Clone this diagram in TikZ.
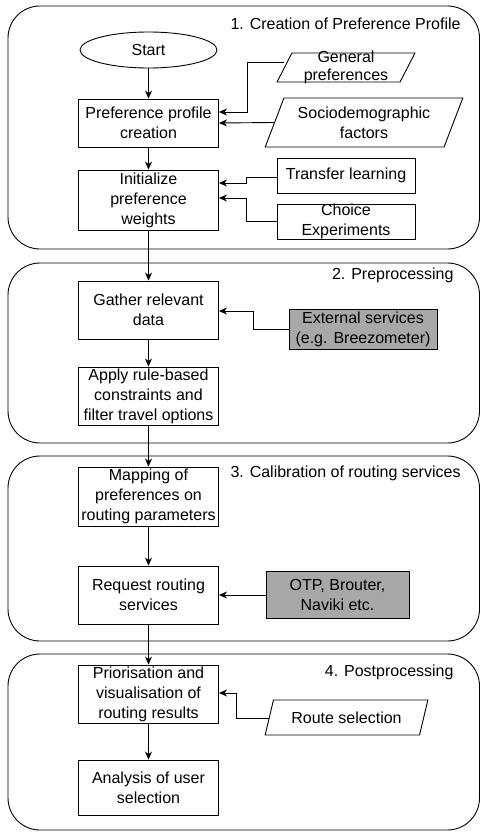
\documentclass[tikz,border=0pt]{standalone}
\usepackage{fontspec}
\setmainfont{Liberation Sans}
\usetikzlibrary{shapes.geometric,arrows.meta}
\definecolor{srvgray}{HTML}{A8A8A8}
\tikzset{every node/.style={font=\fontsize{16}{20}\selectfont, align=center, inner sep=1pt},
  procbox/.style={draw, minimum width=140pt},
  iobox/.style={draw, trapezium, trapezium left angle=65, trapezium right angle=115, trapezium stretches=true},
  srcbox/.style={draw, minimum width=138pt, minimum height=35pt},
  extbox/.style={draw, fill=srvgray},
  flow/.style={-{Stealth[length=8pt,width=7pt,inset=2.5pt]}},
  phase/.style={rounded corners=32pt},
  phasetitle/.style={anchor=east}}

\begin{document}
\begin{tikzpicture}[x=1pt,y=-1pt,line width=0.9pt]
  \useasboundingbox (0,0) rectangle (481,832);
  % phases
  \draw[phase] (8,6) rectangle (479.5,249);
  \draw[phase] (8,263) rectangle (479.5,443);
  \draw[phase] (8,456) rectangle (479.5,641);
  \draw[phase] (8,654) rectangle (479.5,830);
  \node[phasetitle] (t1) at (462,24) {1. Creation of Preference Profile};
  \node[phasetitle] (t2) at (455,275) {2. Preprocessing};
  \node[phasetitle] (t3) at (462,473) {3. Calibration of routing services};
  \node[phasetitle] (t4) at (455,672) {4. Postprocessing};
  % 1. creation of preference profile
  \node[draw,ellipse,minimum width=137pt,minimum height=36pt] (start) at (148.5,50) {Start};
  \node[procbox,minimum height=48pt] (ppc) at (148.5,123) {Preference profile\\creation};
  \node[procbox,minimum height=60pt] (init) at (148.5,200) {Initialize\\preference\\weights};
  \node[iobox,minimum width=138pt,minimum height=29pt,inner xsep=0pt,inner ysep=-4pt,
    font=\fontsize{16}{18}\selectfont] (gp) at (346,67.5) {General\\preferences};
  \node[iobox,minimum width=198pt,minimum height=49pt] (socio) at (364,122.5) {Sociodemographic\\factors};
  \node[srcbox] (transfer) at (346,175.5) {Transfer learning};
  \node[srcbox,inner sep=0pt] (choice) at (346,221.5) {Choice\\Experiments};
  \draw[flow] (start) -- (ppc);
  \draw[flow] ([yshift=5pt]gp.left side) -- ++(-36.5,0) |- ([yshift=11pt]ppc.east);
  \draw[flow] (socio.left side) -- (ppc.east);
  \draw[flow] (ppc) -- (init);
  \draw[flow] ([yshift=-2pt]transfer.west) -- ++(-30,0) |- ([yshift=17pt]init.east);
  \draw[flow] (choice.west) -- ++(-30,0) |- ([yshift=2pt]init.east);
  % 2. preprocessing
  \node[procbox,minimum height=58pt] (gather) at (148.5,310) {Gather relevant\\data};
  \node[procbox,minimum height=58pt] (apply) at (148.5,396) {Apply rule-based\\constraints and\\filter travel options};
  \node[extbox,minimum width=148pt,minimum height=40pt] (ext) at (363,329) {External services\\(e.g. Breezometer)};
  \draw[flow] (init) -- (gather);
  \draw[flow] (ext.west) -- ++(-35,0) |- ([yshift=-1pt]gather.east);
  \draw[flow] (gather) -- (apply);
  % 3. calibration of routing services
  \node[procbox,minimum height=59pt] (mapping) at (148.5,496.5) {Mapping of\\preferences on\\routing parameters};
  \node[procbox,minimum height=58pt] (request) at (148.5,595) {Request routing\\services};
  \node[extbox,minimum width=143pt,minimum height=47pt] (otp) at (337.5,595) {OTP, Brouter,\\Naviki etc.};
  \draw[flow] (apply) -- (mapping);
  \draw[flow] (mapping) -- (request);
  \draw[flow] (otp) -- (request);
  % 4. postprocessing
  \node[procbox,minimum height=58pt] (prior) at (148.5,694) {Priorisation and\\visualisation of\\routing results};
  \node[procbox,minimum height=55pt] (analysis) at (148.5,787.5) {Analysis of user\\selection};
  \node[iobox,minimum width=163pt,minimum height=35pt] (route) at (346.5,717.5) {Route selection};
  \draw[flow] (request) -- (prior);
  \draw[flow] ([yshift=-0.5pt]route.left side) -- ++(-32.5,0) |- ([yshift=1pt]prior.east);
  \draw[flow] (prior) -- (analysis);
\end{tikzpicture}
\end{document}
